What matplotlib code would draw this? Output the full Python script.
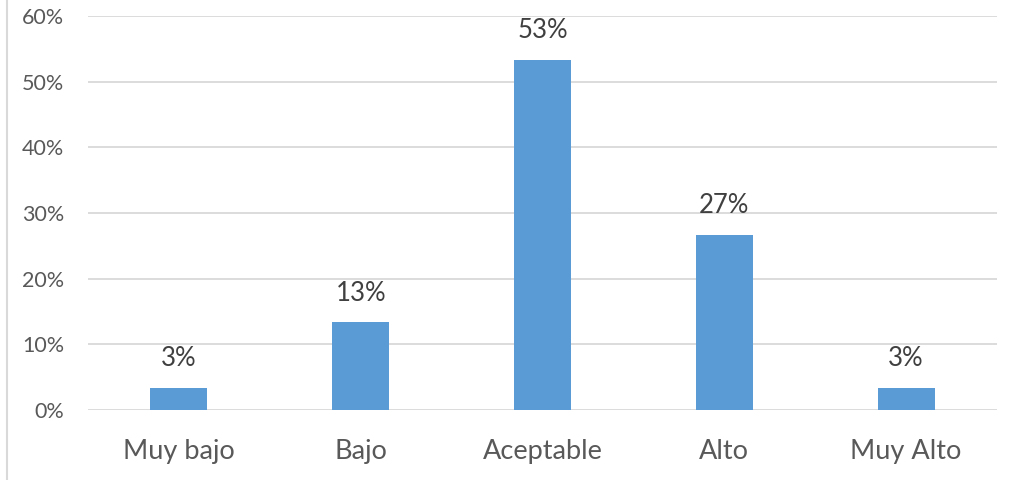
import matplotlib.pyplot as plt
import matplotlib
from matplotlib.lines import Line2D
from matplotlib.ticker import PercentFormatter

matplotlib.rcParams['font.family'] = ['Lato', 'DejaVu Sans']

categorias = ['Muy bajo', 'Bajo', 'Aceptable', 'Alto', 'Muy Alto']
valores = [3.33, 13.33, 53.33, 26.67, 3.33]
etiquetas = ['3%', '13%', '53%', '27%', '3%']

fig = plt.figure(figsize=(10.16, 4.8), dpi=100)
ax = fig.add_axes([0.0866, 0.1458, 0.8947, 0.8209])

x = range(len(categorias))
bars = ax.bar(x, valores, width=0.313, color='#5B9BD5', zorder=3)

for b, t in zip(bars, etiquetas):
    ax.annotate(t, (b.get_x() + b.get_width() / 2, b.get_height()),
                xytext=(0, 12), textcoords='offset points',
                ha='center', va='bottom', fontsize=18.5, color='#404040')

ax.set_xlim(-0.5, 4.5)
ax.set_ylim(0, 60)
ax.set_yticks(range(0, 61, 10))
ax.yaxis.set_major_formatter(PercentFormatter(decimals=0))
ax.set_xticks(list(x))
ax.set_xticklabels(categorias)
ax.tick_params(axis='x', length=0, labelsize=19.5, labelcolor='#595959', pad=21)
ax.tick_params(axis='y', length=0, labelsize=15.5, labelcolor='#595959', pad=17)
ax.grid(axis='y', color='#D9D9D9', linewidth=1.3, zorder=0)
for s in ax.spines.values():
    s.set_visible(False)

# borde izquierdo del marco
fig.add_artist(Line2D([0.007, 0.007], [0, 1], color='#D9D9D9', linewidth=1.5,
                      transform=fig.transFigure))

plt.savefig('out.png')
